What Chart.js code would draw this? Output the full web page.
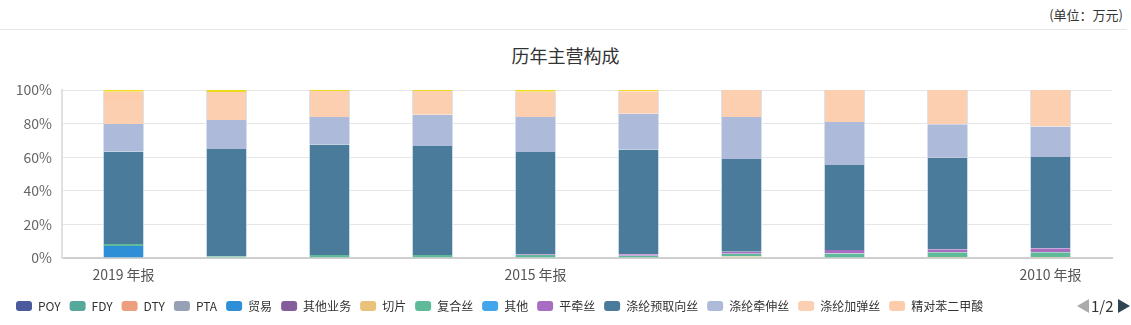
<!DOCTYPE html>
<html>
<head>
<meta charset="utf-8">
<script src="https://cdn.jsdelivr.net/npm/chart.js@4.4.1/dist/chart.umd.min.js"></script>
<style>
  html, body { margin: 0; padding: 0; background: #fff; }
  body { width: 1131px; height: 325px; position: relative; overflow: hidden;
         font-family: "Noto Sans CJK SC", "Microsoft YaHei", sans-serif; }
  #unit { position: absolute; right: 8px; top: 6px; font-size: 13px; line-height: 18px; color: #333; }
  #rule { position: absolute; left: 0; right: 4px; top: 29px; height: 1px; background: #e6e6e6; }
  #title { position: absolute; left: 0; width: 100%; top: 43px; text-align: center;
           font-size: 18px; line-height: 24px; color: #333; }
  #chart { position: absolute; left: 0; top: 0; }
  #pager { position: absolute; left: 1077px; top: 296px; height: 20px; }
  #pager .prev, #pager .next { position: absolute; top: 3px; width: 0; height: 0;
           border-top: 7px solid transparent; border-bottom: 7px solid transparent; }
  #pager .prev { left: 0; border-right: 12px solid #aaa; }
  #pager .next { left: 41px; border-left: 12px solid #2f4554; }
  #pager .page { position: absolute; left: 14px; top: 0; font-size: 15px; line-height: 20px; color: #333; }
</style>
</head>
<body>
<div id="unit">(单位：万元)</div>
<div id="rule"></div>
<div id="title">历年主营构成</div>
<canvas id="chart" width="1131" height="325"></canvas>
<div id="pager"><span class="prev"></span><span class="page">1/2</span><span class="next"></span></div>
<script>
// report years, newest first
const years = ['2019 年报', '2018 年报', '2017 年报', '2016 年报', '2015 年报',
               '2014 年报', '2013 年报', '2012 年报', '2011 年报', '2010 年报'];
const labelledYears = ['2019 年报', '2015 年报', '2010 年报'];

// share of main business revenue, %
const poy        = [0, 0, 0, 0, 0, 0, 0, 0, 0, 0];
const fdy        = [0, 0, 0, 0, 0, 0, 0, 0, 0, 0];
const dty        = [0, 0, 0, 0, 0, 0, 0, 0, 0, 0];
const pta        = [0, 0, 0, 0, 0, 0, 0, 0, 0, 0];
const trade      = [7.1, 0, 0, 0, 0, 0, 0, 0, 0, 0];
const otherOps   = [0, 0, 0, 0, 0, 0, 0, 0, 0, 0];
const chips      = [0, 0, 0, 0, 0, 0, 0.9, 0, 0.6, 0.6];
const composite  = [1.2, 1.0, 1.8, 1.8, 1.8, 1.4, 1.6, 2.7, 2.8, 2.8];
const others     = [0, 0, 0, 0, 0, 0, 0, 0, 0, 0];
const flatDrawn  = [0, 0, 0, 0, 0.4, 0.9, 1.2, 2.1, 1.8, 2.4];
const preOriented = [55.0, 63.9, 65.7, 64.9, 60.9, 62.3, 55.2, 50.6, 54.5, 54.3];
const drawnYarn  = [16.5, 17.2, 16.4, 18.6, 20.8, 21.3, 25.0, 25.6, 19.9, 18.1];
const textured   = [13.7, 16.7, 15.5, 14.1, 15.1, 13.3, 16.1, 19.0, 20.4, 21.8];
const pureTa     = [5.5, 0, 0, 0, 0, 0, 0, 0, 0, 0];
const restMain   = [1.0, 1.2, 0.6, 0.6, 1.0, 0.8, 0, 0, 0, 0];   // listed on legend page 2

const series = [
  ['POY', poy, '#4b5a9c'],
  ['FDY', fdy, '#55a89a'],
  ['DTY', dty, '#ec9f7c'],
  ['PTA', pta, '#97a0b4'],
  ['贸易', trade, '#2f8fd6'],
  ['其他业务', otherOps, '#845e9b'],
  ['切片', chips, '#eac179'],
  ['复合丝', composite, '#5fba9a'],
  ['其他', others, '#44a6ea'],
  ['平牵丝', flatDrawn, '#a86cc1'],
  ['涤纶预取向丝', preOriented, '#4a7b9b'],
  ['涤纶牵伸丝', drawnYarn, '#adbad9'],
  ['涤纶加弹丝', textured, '#fccfb1'],
  ['精对苯二甲酸', pureTa, '#fdcdab'],
  ['其他主营', restMain, '#f0d81e']
];
const legendCount = 14;

Chart.defaults.font.family = '"Noto Sans CJK SC", "Microsoft YaHei", sans-serif';

const datasets = series.map(([label, values, color]) => ({
  label,
  data: values.map((v, i) => ({ x: i, y: v })),
  backgroundColor: color,
  borderColor: 'rgba(208, 222, 236, 0.9)',
  borderWidth: { left: 1, right: 1, top: 0, bottom: 0 },
  borderSkipped: false,
  categoryPercentage: 1,
  barPercentage: 0.4
}));

new Chart(document.getElementById('chart'), {
  type: 'bar',
  data: { datasets },
  options: {
    responsive: false,
    animation: false,
    layout: { padding: { left: 7, right: 19, top: 90, bottom: 3 } },
    plugins: {
      tooltip: { enabled: false },
      legend: {
        position: 'bottom',
        align: 'start',
        labels: {
          boxWidth: 16,
          boxHeight: 10,
          useBorderRadius: true,
          borderRadius: 3,
          padding: 9,
          color: '#333',
          font: { size: 12 },
          generateLabels: chart => Chart.defaults.plugins.legend.labels.generateLabels(chart)
            .filter(item => item.datasetIndex < legendCount)
            .map(item => ({ ...item, lineWidth: 0 }))
        }
      }
    },
    scales: {
      x: {
        type: 'linear',
        stacked: true,
        offset: false,
        min: -0.597,
        max: 9.597,
        grid: { display: false, drawTicks: false },
        border: { color: '#cfcfcf', width: 2 },
        afterBuildTicks: scale => { scale.ticks = years.map((_, i) => ({ value: i })); },
        afterFit: scale => { scale.height = 33; },
        ticks: {
          autoSkip: false,
          maxRotation: 0,
          padding: 8,
          color: '#555',
          font: { size: 14 },
          callback: v => labelledYears.includes(years[v]) ? years[v] : ''
        }
      },
      y: {
        stacked: true,
        min: 0,
        max: 100,
        afterFit: scale => { scale.width = 55; },
        grid: { color: '#e6e6e6', drawTicks: false },
        border: { color: '#e0e0e0', width: 2 },
        ticks: {
          stepSize: 20,
          padding: 10,
          color: '#666',
          font: { size: 14 },
          callback: v => v + '%'
        }
      }
    }
  }
});
</script>
</body>
</html>
